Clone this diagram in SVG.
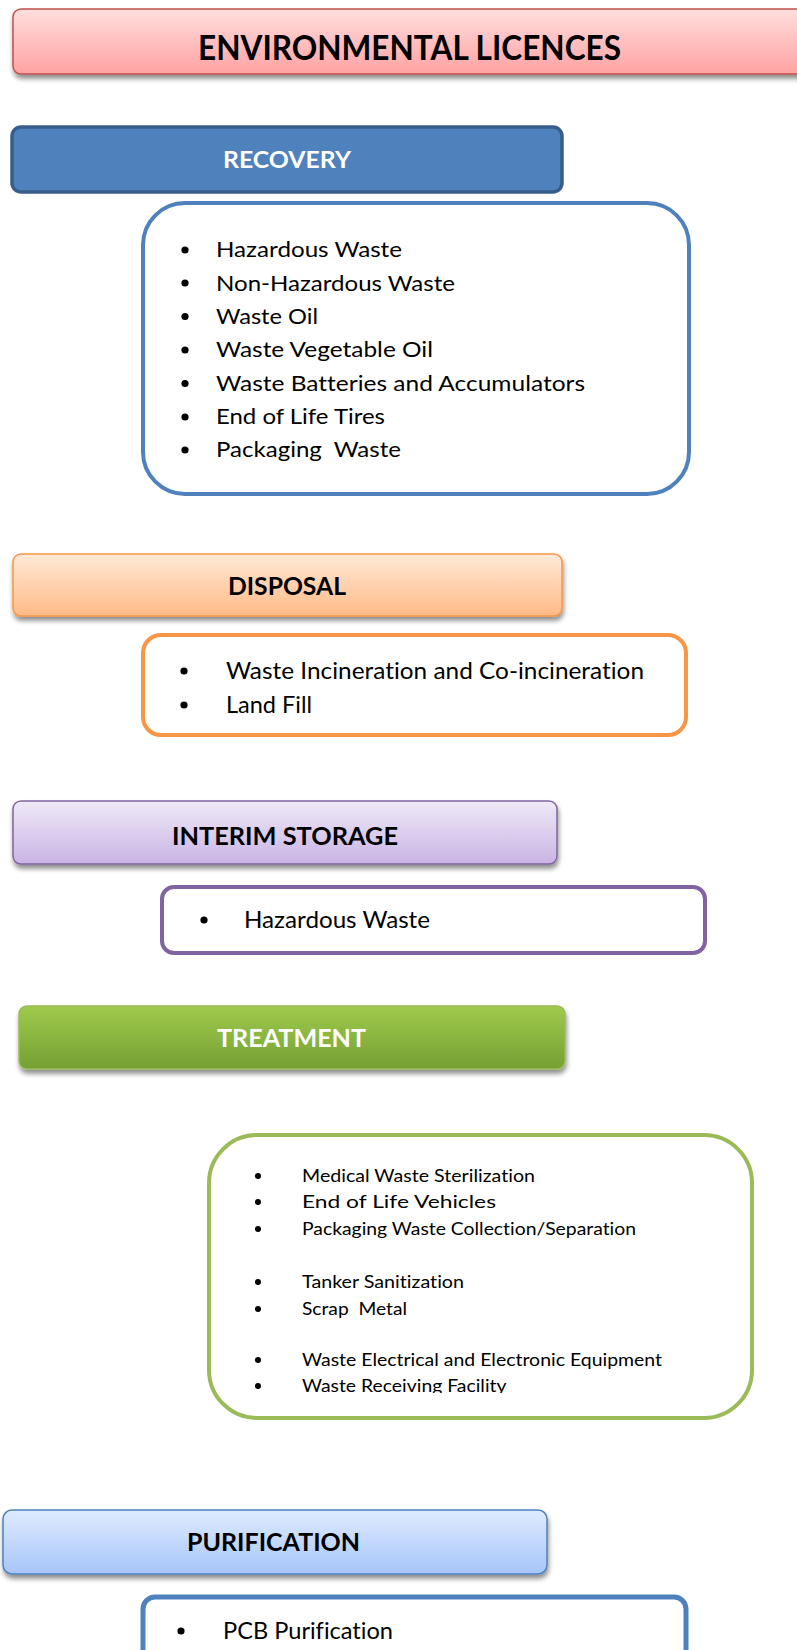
<svg xmlns="http://www.w3.org/2000/svg" width="797" height="1650" viewBox="0 0 797 1650">
<defs>
<style>
.hdr{font-family:Lato,"Liberation Sans",sans-serif;font-weight:bold;text-anchor:start;font-variant-ligatures:none}
.item{font-family:Lato,"Liberation Sans",sans-serif;fill:#000;font-variant-ligatures:none;white-space:pre}
.list{fill:#fff}
</style>
<linearGradient id="gTitle" x1="0" y1="0" x2="0" y2="1"><stop offset="0" stop-color="#FFDEDE"/><stop offset="1" stop-color="#FFA2A2"/></linearGradient>
<linearGradient id="gDisp" x1="0" y1="0" x2="0" y2="1"><stop offset="0" stop-color="#FFE9D7"/><stop offset="1" stop-color="#FFBA86"/></linearGradient>
<linearGradient id="gInt" x1="0" y1="0" x2="0" y2="1"><stop offset="0" stop-color="#EFE9F7"/><stop offset="1" stop-color="#C9B4E4"/></linearGradient>
<linearGradient id="gTreat" x1="0" y1="0" x2="0" y2="1"><stop offset="0" stop-color="#9FCA4C"/><stop offset="1" stop-color="#75A034"/></linearGradient>
<linearGradient id="gPur" x1="0" y1="0" x2="0" y2="1"><stop offset="0" stop-color="#DFEBFE"/><stop offset="1" stop-color="#A6C5F9"/></linearGradient>
<filter id="shadow" x="-5%" y="-20%" width="110%" height="160%">
<feGaussianBlur in="SourceAlpha" stdDeviation="2.5"/>
<feOffset dx="1" dy="4" result="b"/>
<feComponentTransfer><feFuncA type="linear" slope="0.45"/></feComponentTransfer>
<feMerge><feMergeNode/><feMergeNode in="SourceGraphic"/></feMerge>
</filter>
<clipPath id="clipTreat"><rect x="200" y="1130" width="560" height="263"/></clipPath>
</defs>
<rect width="797" height="1650" fill="#fff"/>

<g id="title">
<rect x="13" y="9" width="800" height="65" rx="8" fill="url(#gTitle)" stroke="#C0504D" stroke-width="1.5" filter="url(#shadow)"/>
<text class="hdr" x="198" y="60" font-size="34" fill="#000" textLength="423" lengthAdjust="spacingAndGlyphs">ENVIRONMENTAL LICENCES</text>
</g>

<g id="recovery">
<rect x="12" y="127" width="550" height="65" rx="9" fill="#4F81BD" stroke="#385D8A" stroke-width="3.5"/>
<text class="hdr" x="223" y="168" font-size="22" fill="#fff" textLength="128" lengthAdjust="spacingAndGlyphs">RECOVERY</text>
</g>
<g id="recovery-list">
<rect x="143" y="203" width="546" height="291" rx="42" class="list" stroke="#4F81BD" stroke-width="4"/>
<g fill="#000">
<circle cx="185" cy="250" r="3.6"/><circle cx="185" cy="283" r="3.6"/><circle cx="185" cy="316.5" r="3.6"/><circle cx="185" cy="350" r="3.6"/><circle cx="185" cy="383.5" r="3.6"/><circle cx="185" cy="417" r="3.6"/><circle cx="185" cy="450" r="3.6"/>
</g>
<text class="item" font-size="21.5">
<tspan x="216" y="257" textLength="186" lengthAdjust="spacingAndGlyphs">Hazardous Waste</tspan>
<tspan x="216" y="290.5" textLength="239" lengthAdjust="spacingAndGlyphs">Non-Hazardous Waste</tspan>
<tspan x="216" y="324" textLength="102" lengthAdjust="spacingAndGlyphs">Waste Oil</tspan>
<tspan x="216" y="357" textLength="217" lengthAdjust="spacingAndGlyphs">Waste Vegetable Oil</tspan>
<tspan x="216" y="391" textLength="369" lengthAdjust="spacingAndGlyphs">Waste Batteries and Accumulators</tspan>
<tspan x="216" y="424" textLength="169" lengthAdjust="spacingAndGlyphs">End of Life Tires</tspan>
<tspan x="216" y="457" textLength="185" lengthAdjust="spacingAndGlyphs">Packaging  Waste</tspan>
</text>
</g>

<g id="disposal">
<rect x="13" y="554" width="549" height="62" rx="8" fill="url(#gDisp)" stroke="#F79646" stroke-width="1.5" filter="url(#shadow)"/>
<text class="hdr" x="228" y="595" font-size="25" fill="#000" textLength="118" lengthAdjust="spacingAndGlyphs">DISPOSAL</text>
</g>
<g id="disposal-list">
<rect x="143" y="635" width="543" height="100" rx="18" class="list" stroke="#F79646" stroke-width="4"/>
<circle cx="184" cy="671" r="3.6"/><circle cx="184" cy="705" r="3.6"/>
<text class="item" font-size="23">
<tspan x="226" y="679" textLength="418" lengthAdjust="spacingAndGlyphs">Waste Incineration and Co-incineration</tspan>
<tspan x="226" y="713" textLength="86" lengthAdjust="spacingAndGlyphs">Land Fill</tspan>
</text>
</g>

<g id="interim-storage">
<rect x="13" y="801" width="544" height="63" rx="8" fill="url(#gInt)" stroke="#8064A2" stroke-width="1.5" filter="url(#shadow)"/>
<text class="hdr" x="172" y="845" font-size="25" fill="#000" textLength="226" lengthAdjust="spacingAndGlyphs">INTERIM STORAGE</text>
</g>
<g id="interim-list">
<rect x="162" y="887" width="543" height="66" rx="12" class="list" stroke="#8064A2" stroke-width="4"/>
<circle cx="204" cy="920" r="3.6"/>
<text class="item" font-size="23"><tspan x="244" y="928" textLength="186" lengthAdjust="spacingAndGlyphs">Hazardous Waste</tspan></text>
</g>

<g id="treatment">
<rect x="19" y="1006" width="546" height="63" rx="8" fill="url(#gTreat)" stroke="#9BBB59" stroke-width="1.5" filter="url(#shadow)"/>
<text class="hdr" x="217" y="1047" font-size="25" fill="#fff" textLength="149" lengthAdjust="spacingAndGlyphs">TREATMENT</text>
</g>
<g id="treatment-list">
<rect x="209" y="1135" width="543" height="283" rx="48" class="list" stroke="#9BBB59" stroke-width="4"/>
<g fill="#000">
<circle cx="258" cy="1176" r="3"/><circle cx="258" cy="1202" r="3"/><circle cx="258" cy="1229" r="3"/><circle cx="258" cy="1282" r="3"/><circle cx="258" cy="1309" r="3"/><circle cx="258" cy="1360" r="3"/><circle cx="258" cy="1386" r="3"/>
</g>
<text class="item" font-size="17.5" clip-path="url(#clipTreat)">
<tspan x="302" y="1182" textLength="233" lengthAdjust="spacingAndGlyphs">Medical Waste Sterilization</tspan>
<tspan x="302" y="1208" textLength="194" lengthAdjust="spacingAndGlyphs">End of Life Vehicles</tspan>
<tspan x="302" y="1235" textLength="334" lengthAdjust="spacingAndGlyphs">Packaging Waste Collection/Separation</tspan>
<tspan x="302" y="1288" textLength="162" lengthAdjust="spacingAndGlyphs">Tanker Sanitization</tspan>
<tspan x="302" y="1315" textLength="105" lengthAdjust="spacingAndGlyphs">Scrap  Metal</tspan>
<tspan x="302" y="1366" textLength="360" lengthAdjust="spacingAndGlyphs">Waste Electrical and Electronic Equipment</tspan>
<tspan x="302" y="1392" textLength="204" lengthAdjust="spacingAndGlyphs">Waste Receiving Facility</tspan>
</text>
</g>

<g id="purification">
<rect x="3" y="1510" width="544" height="64" rx="9" fill="url(#gPur)" stroke="#4F81BD" stroke-width="1.5" filter="url(#shadow)"/>
<text class="hdr" x="187" y="1551" font-size="25" fill="#000" textLength="173" lengthAdjust="spacingAndGlyphs">PURIFICATION</text>
</g>
<g id="purification-list">
<rect x="143" y="1597" width="543" height="100" rx="12" class="list" stroke="#4F81BD" stroke-width="5"/>
<circle cx="181" cy="1631" r="3.6"/>
<text class="item" font-size="23"><tspan x="223" y="1639" textLength="170" lengthAdjust="spacingAndGlyphs">PCB Purification</tspan></text>
</g>

<g id="connectors"/>
</svg>
